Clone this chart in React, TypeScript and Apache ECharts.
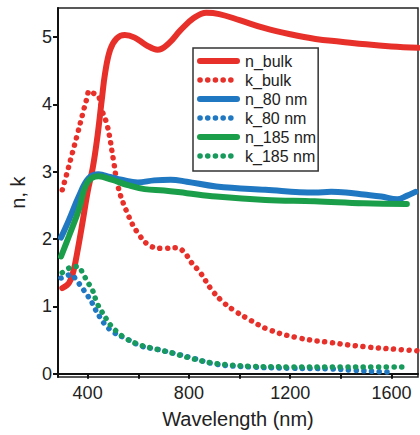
import React, { useEffect, useRef } from "react";
import * as echarts from "echarts";

const seriesNames = ["n_bulk", "k_bulk", "n_80 nm", "k_80 nm", "n_185 nm", "k_185 nm"];
const seriesColors = ["#e8302a", "#e8302a", "#1f78c1", "#1f78c1", "#1b9e4a", "#179a5c"];

const nBulkX = [300, 327, 345, 359, 380, 400, 420, 437, 456, 469, 489, 515, 547, 586, 631, 676, 722, 767, 819, 869, 920, 1000, 1100, 1200, 1300, 1400, 1500, 1600, 1705];
const nBulkY = [1.27, 1.35, 1.54, 1.8, 2.25, 2.7, 3.05, 3.47, 4.07, 4.46, 4.81, 4.98, 5.03, 4.99, 4.88, 4.81, 4.91, 5.1, 5.28, 5.36, 5.34, 5.25, 5.13, 5.04, 4.97, 4.93, 4.89, 4.86, 4.84];

const kBulkX = [300, 320, 340, 360, 380, 395, 408, 425, 443, 456, 478, 502, 520, 554, 598, 651, 700, 750, 780, 810, 845, 889, 930, 974, 1040, 1118, 1234, 1362, 1491, 1623, 1705];
const kBulkY = [2.73, 3.0, 3.28, 3.56, 3.85, 4.06, 4.2, 4.16, 4.12, 3.92, 3.68, 3.17, 2.78, 2.41, 2.09, 1.89, 1.86, 1.87, 1.81, 1.65, 1.5, 1.25, 1.08, 0.95, 0.8, 0.65, 0.53, 0.46, 0.4, 0.36, 0.34];

const n80X = [295, 326, 365, 404, 443, 489, 534, 598, 663, 728, 792, 908, 1102, 1297, 1362, 1420, 1491, 1560, 1623, 1660, 1695];
const n80Y = [2.02, 2.28, 2.63, 2.9, 2.96, 2.92, 2.88, 2.84, 2.87, 2.88, 2.85, 2.78, 2.73, 2.69, 2.7, 2.69, 2.66, 2.63, 2.59, 2.64, 2.7];

const k80X = [295, 315, 333, 359, 379, 398, 418, 431, 450, 469, 500, 547, 612, 676, 741, 806, 908, 1040, 1200, 1362, 1450, 1550, 1610];
const k80Y = [1.42, 1.45, 1.47, 1.37, 1.27, 1.17, 1.05, 0.95, 0.83, 0.73, 0.62, 0.53, 0.41, 0.36, 0.3, 0.24, 0.14, 0.1, 0.08, 0.07, 0.05, 0.03, 0.02];

const n185X = [295, 326, 365, 398, 443, 495, 559, 625, 702, 792, 908, 1102, 1297, 1491, 1661];
const n185Y = [1.74, 2.04, 2.43, 2.83, 2.93, 2.88, 2.8, 2.74, 2.72, 2.68, 2.63, 2.58, 2.56, 2.53, 2.52];

const k185X = [300, 320, 340, 360, 384, 398, 418, 437, 456, 476, 495, 520, 547, 612, 676, 741, 806, 889, 960, 1040, 1200, 1400, 1550, 1665];
const k185Y = [1.5, 1.55, 1.59, 1.59, 1.47, 1.37, 1.25, 1.05, 0.92, 0.8, 0.7, 0.61, 0.53, 0.42, 0.36, 0.3, 0.23, 0.16, 0.13, 0.11, 0.1, 0.1, 0.1, 0.1];

const xTickValues = [400, 600, 800, 1000, 1200, 1400, 1600];
const xLabelValues = [400, 800, 1200, 1600];
const yTickValues = [0, 1, 2, 3, 4, 5];

const FONT = "'Liberation Sans', Arial, sans-serif";

const seriesXs = [nBulkX, kBulkX, n80X, k80X, n185X, k185X];
const seriesYs = [nBulkY, kBulkY, n80Y, k80Y, n185Y, k185Y];

export default function App() {
  const ref = useRef<HTMLDivElement>(null);
  useEffect(() => {
    if (!ref.current) return;
    const chart = echarts.init(ref.current, undefined, { renderer: "svg" });
    const isDotted = (i: number) => i % 2 === 1;
    const lineStyleFor = (i: number) =>
      isDotted(i)
        ? { width: 5.5, color: seriesColors[i], type: [0.1, 7.6], cap: "round" }
        : { width: 6, color: seriesColors[i], type: "solid", cap: "round" };
    const series = seriesNames.map((name, i) => ({
      name,
      type: "line",
      symbol: "none",
      smooth: 0.4,
      data: seriesXs[i].map((x, j) => [x, seriesYs[i][j]]),
      lineStyle: lineStyleFor(i),
      itemStyle: { color: seriesColors[i] },
      z: 2 + i,
    }));
    chart.setOption({
      animation: false,
      grid: {
        left: 52,
        right: 2,
        top: 8,
        bottom: 58,
        show: true,
        borderColor: "#222",
        borderWidth: 1.5,
      },
      legend: {
        orient: "vertical",
        left: 193,
        top: 48,
        itemWidth: 37,
        itemHeight: 1,
        itemGap: 3,
        padding: [5, 2, 7, 4],
        borderColor: "#333",
        borderWidth: 1.5,
        itemStyle: { borderWidth: 0, opacity: 0 },
        textStyle: { fontSize: 16, color: "#222", fontFamily: FONT, padding: [0, 0, 0, 3] },
        data: seriesNames.map((name, i) => ({
          name,
          lineStyle: lineStyleFor(i),
        })),
      },
      xAxis: {
        type: "value",
        min: 283,
        max: 1705,
        name: "Wavelength (nm)",
        nameLocation: "middle",
        nameGap: 32,
        nameTextStyle: { fontSize: 20, color: "#222", fontFamily: FONT },
        axisLine: { show: true, lineStyle: { color: "#111", width: 2 } },
        axisTick: { show: true, customValues: xTickValues, length: 5, lineStyle: { color: "#111", width: 2 } },
        axisLabel: {
          customValues: xLabelValues,
          formatter: (v: number) => String(v),
          fontSize: 18,
          color: "#222",
          fontFamily: FONT,
          margin: 7,
        },
        splitLine: { show: false },
      },
      yAxis: {
        type: "value",
        min: -0.05,
        max: 5.43,
        name: "n, k",
        nameLocation: "middle",
        nameGap: 30,
        nameTextStyle: { fontSize: 20, color: "#222", fontFamily: FONT },
        axisLine: { show: true, lineStyle: { color: "#111", width: 2 } },
        axisTick: { show: true, customValues: yTickValues, length: 5, lineStyle: { color: "#111", width: 2 } },
        axisLabel: {
          customValues: yTickValues,
          formatter: (v: number) => String(v),
          fontSize: 18,
          color: "#222",
          fontFamily: FONT,
          margin: 6,
        },
        splitLine: { show: false },
      },
      series,
    });
    return () => chart.dispose();
  }, []);
  return (
    <div
      ref={ref}
      style={{ position: "fixed", left: 0, top: 0, width: 420, height: 435, background: "#fff" }}
    />
  );
}
